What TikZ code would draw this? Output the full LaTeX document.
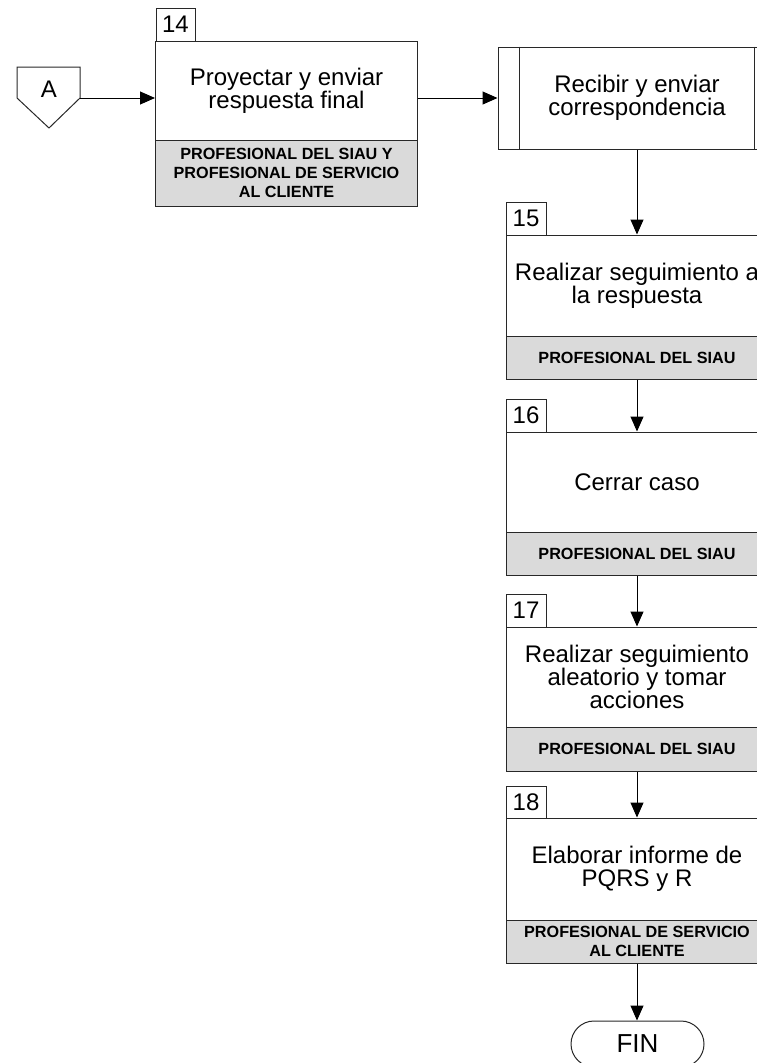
\documentclass[tikz,border=0pt]{standalone}
\usepackage{fontspec}
\setmainfont{Liberation Sans}
\usetikzlibrary{arrows.meta,calc}
\definecolor{bandgray}{RGB}{218,218,218}
\definecolor{edge}{RGB}{40,40,40}
\newcommand\steptxt{\fontsize{24}{23}\selectfont}
\newcommand\roletxt{\fontsize{16.2}{19}\selectfont\bfseries}
\newcommand\numtxt{\fontsize{24}{24}\selectfont}

\begin{document}
\begin{tikzpicture}[x=1pt,y=-1pt,line width=1pt,
  stepbox/.style={draw=edge, minimum width=262pt, minimum height=#1,
    align=center, font=\steptxt, inner sep=0pt},
  rolebox/.style={draw=edge, fill=bandgray, minimum width=262pt, minimum height=#1,
    align=center, font=\roletxt, inner sep=0pt},
  numbox/.style={draw=edge, minimum width=39pt, minimum height=33pt,
    font=\numtxt, inner sep=0pt},
  arr/.style={-{Triangle[length=15pt,width=13pt]}}]

\useasboundingbox (0,0) rectangle (757,1063);
\clip (0,0) rectangle (757,1063);

% off-page connector A
\draw[edge] (17,67) -- (80,67) -- (80,98) -- (49,128) -- (17,98) -- cycle;
\node[font=\steptxt] (a) at (49,89) {A};
\coordinate (aout) at (80,98);

% activity 14
\node[stepbox=99pt] (b14) at (286.5,90.5) {Proyectar y enviar\\respuesta final};
\node[rolebox=66pt] (b14r) at (286.5,173) {PROFESIONAL DEL SIAU Y\\PROFESIONAL DE SERVICIO\\AL CLIENTE};
\node[numbox] (n14) at (175.5,24.5) {14};

% predefined process
\node[draw=edge, minimum width=278pt, minimum height=102pt, font=\steptxt,
  align=center, inner sep=0pt] (r) at (637,98) {Recibir y enviar\\correspondencia};
\draw[edge] ($(r.north west)+(22,0)$) -- ($(r.south west)+(22,0)$);
\draw[edge] ($(r.north east)+(-22,0)$) -- ($(r.south east)+(-22,0)$);

% activity 15
\node[stepbox=101pt] (b15) at (637,285.5) {Realizar seguimiento a\\la respuesta};
\node[rolebox=43pt] (b15r) at (637,357.5) {PROFESIONAL DEL SIAU};
\node[numbox, minimum width=40pt] (n15) at (526,218.5) {15};

% activity 16
\node[stepbox=100pt] (b16) at (637,482) {Cerrar caso};
\node[rolebox=43pt] (b16r) at (637,553.5) {PROFESIONAL DEL SIAU};
\node[numbox, minimum width=40pt] (n16) at (526,415.5) {16};

% activity 17
\node[stepbox=100pt] (b17) at (637,677) {Realizar seguimiento\\aleatorio y tomar\\acciones};
\node[rolebox=44pt] (b17r) at (637,749) {PROFESIONAL DEL SIAU};
\node[numbox, minimum width=40pt] (n17) at (526,610.5) {17};

% activity 18
\node[stepbox=102pt] (b18) at (637,869) {Elaborar informe de\\PQRS y R};
\node[rolebox=43pt] (b18r) at (637,941.5) {PROFESIONAL DE SERVICIO\\AL CLIENTE};
\node[numbox, minimum width=40pt, minimum height=32pt] (n18) at (526,802) {18};

% terminator
\node[draw=edge, rounded corners=23pt, minimum width=133pt, minimum height=46pt,
  font=\fontsize{26}{26}\selectfont, inner sep=0pt] (fin) at (637.5,1044) {FIN};

% flow
\draw[arr] (aout) -- (aout -| b14.west);
\draw[arr] (r.west -| b14.east) -- (r.west);
\draw[arr] (r.south) -- (b15.north);
\draw[arr] (b15r.south) -- (b16.north);
\draw[arr] (b16r.south) -- (b17.north);
\draw[arr] (b17r.south) -- (b18.north);
\draw[arr] (b18r.south) -- (fin.north -| b18r.south);
\end{tikzpicture}
\end{document}
